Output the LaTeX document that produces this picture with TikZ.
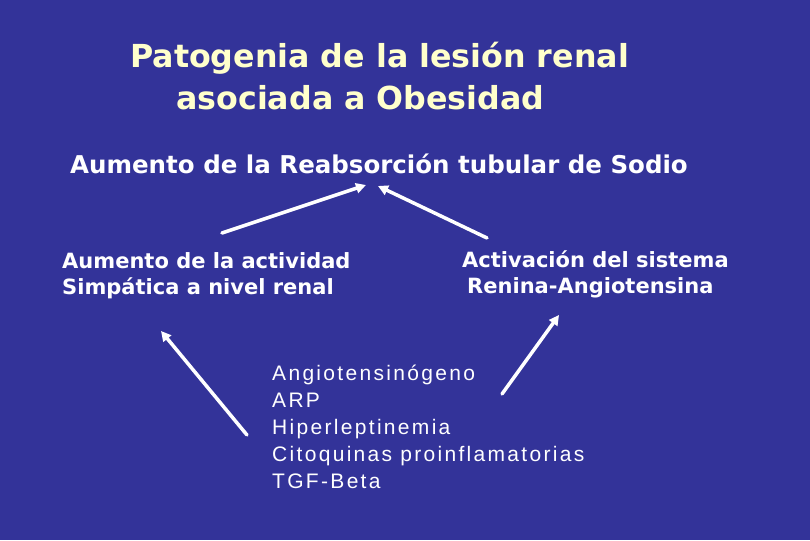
\documentclass[tikz,border=0pt]{standalone}
\usepackage{fontspec}
\setmainfont{DejaVu Sans}
\newfontfamily\listfont[LetterSpace=11]{Liberation Sans}
\usetikzlibrary{arrows.meta,positioning}
\definecolor{slideblue}{RGB}{51,51,153}
\definecolor{titleyellow}{RGB}{255,255,204}

\begin{document}
\begin{tikzpicture}[x=1pt, y=-1pt,
  >={Triangle[length=10pt,width=10pt]},
  txt/.style={text=white, inner sep=0pt, anchor=base west, align=left},
  hd/.style={txt, text=titleyellow, font=\bfseries\fontsize{31.7}{42}\selectfont},
  bd/.style={txt, font=\bfseries\fontsize{21}{26}\selectfont},
  it/.style={txt, font=\listfont\fontsize{21}{27}\selectfont},
  arr/.style={->, white, line width=3.5pt, line cap=round}]
\fill[slideblue] (0,0) rectangle (810,540);
% title
\node[hd] (tit) at (130,110) {Patogenia de la lesión renal\\\hspace*{46pt}asociada a Obesidad};
\node[bd, font=\bfseries\fontsize{24.5}{26}\selectfont] (sub) at (70,173) {Aumento de la Reabsorción tubular de Sodio};
\node[bd] (sim) at (62,294) {Aumento de la actividad\\Simpática a nivel renal};
\node[bd] (ras) at (462,293) {Activación del sistema\\\hspace*{5pt}Renina-Angiotensina};
\node[it] (lst) at (272,488) {Angiotensinógeno\\ARP\\Hiperleptinemia\\Citoquinas proinflamatorias\\TGF-Beta};
% arrows
\coordinate (a1) at (222,233); \coordinate (b1) at (366,185);
\coordinate (a2) at (487,238); \coordinate (b2) at (378,186);
\coordinate (a3) at (247,435); \coordinate (b3) at (161,331);
\coordinate (a4) at (502,394); \coordinate (b4) at (559,315);
\draw[arr] (a1) -- (b1);
\draw[arr] (a2) -- (b2);
\draw[arr] (a3) -- (b3);
\draw[arr] (a4) -- (b4);
\end{tikzpicture}
\end{document}
